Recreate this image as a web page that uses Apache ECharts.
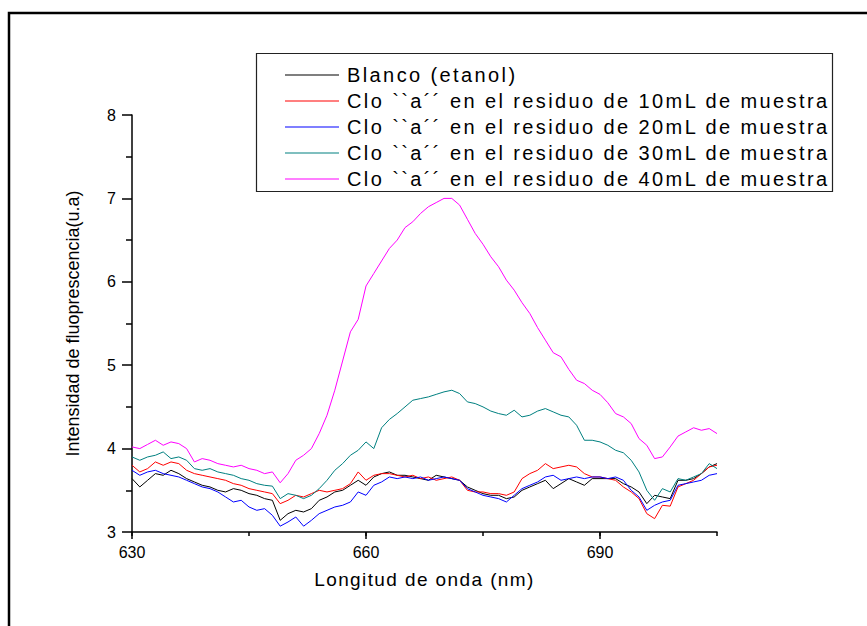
<!DOCTYPE html>
<html>
<head>
<meta charset="utf-8">
<script src="https://cdn.jsdelivr.net/npm/echarts/dist/echarts.min.js"></script>
<style>
  html, body { margin: 0; padding: 0; background: #fff; }
  #main { width: 867px; height: 626px; }
</style>
</head>
<body>
<div id="main"></div>
<script>
// longitud de onda (nm)
var wavelength = [630,631,632,633,634,635,636,637,638,639,640,641,642,643,644,645,646,647,648,649,
  650,651,652,653,654,655,656,657,658,659,660,661,662,663,664,665,666,667,668,669,
  670,671,672,673,674,675,676,677,678,679,680,681,682,683,684,685,686,687,688,689,
  690,691,692,693,694,695,696,697,698,699,700,701,702,703,704,705];

// Blanco (etanol)
var blanco = [3.64,3.54,3.62,3.70,3.68,3.74,3.70,3.64,3.60,3.56,3.54,3.50,3.48,3.52,3.50,3.46,3.44,3.40,3.38,3.14,
  3.22,3.26,3.24,3.28,3.38,3.42,3.48,3.50,3.56,3.62,3.56,3.66,3.70,3.72,3.68,3.68,3.66,3.64,3.62,3.68,
  3.66,3.64,3.62,3.54,3.50,3.46,3.44,3.44,3.40,3.42,3.50,3.54,3.58,3.62,3.52,3.58,3.64,3.60,3.56,3.64,
  3.64,3.64,3.64,3.58,3.54,3.48,3.34,3.44,3.42,3.40,3.62,3.62,3.64,3.70,3.78,3.82];
// 10mL
var m10 = [3.80,3.72,3.76,3.84,3.80,3.84,3.82,3.74,3.70,3.68,3.66,3.64,3.62,3.58,3.56,3.52,3.50,3.48,3.46,3.34,
  3.38,3.44,3.42,3.46,3.50,3.48,3.50,3.52,3.58,3.72,3.62,3.68,3.70,3.70,3.68,3.66,3.68,3.64,3.66,3.62,
  3.64,3.66,3.62,3.50,3.48,3.48,3.46,3.46,3.44,3.48,3.64,3.70,3.74,3.82,3.76,3.78,3.80,3.78,3.70,3.66,
  3.66,3.64,3.62,3.54,3.48,3.40,3.22,3.16,3.32,3.31,3.54,3.58,3.62,3.70,3.78,3.80];
// 20mL
var m20 = [3.74,3.68,3.72,3.74,3.70,3.68,3.66,3.62,3.58,3.54,3.52,3.48,3.42,3.36,3.38,3.30,3.26,3.28,3.20,3.07,
  3.12,3.18,3.07,3.14,3.22,3.26,3.30,3.32,3.36,3.48,3.44,3.56,3.60,3.66,3.64,3.66,3.64,3.66,3.62,3.64,
  3.66,3.64,3.62,3.52,3.48,3.44,3.42,3.40,3.36,3.44,3.52,3.56,3.60,3.66,3.68,3.62,3.64,3.66,3.64,3.66,
  3.66,3.64,3.66,3.62,3.50,3.42,3.26,3.32,3.36,3.38,3.56,3.58,3.60,3.62,3.68,3.70];
// 30mL
var m30 = [3.90,3.86,3.90,3.92,3.96,3.88,3.90,3.86,3.76,3.74,3.76,3.72,3.70,3.68,3.64,3.62,3.58,3.56,3.55,3.40,
  3.46,3.44,3.40,3.44,3.52,3.62,3.74,3.82,3.92,3.98,4.08,4.00,4.25,4.35,4.42,4.50,4.58,4.60,4.62,4.65,
  4.68,4.70,4.66,4.56,4.54,4.50,4.45,4.42,4.40,4.46,4.38,4.40,4.45,4.48,4.44,4.40,4.38,4.28,4.10,4.10,
  4.08,4.04,3.98,3.95,3.86,3.72,3.50,3.38,3.52,3.48,3.64,3.62,3.66,3.70,3.82,3.76];
// 40mL
var m40 = [4.02,4.00,4.05,4.10,4.04,4.08,4.06,4.00,3.84,3.88,3.86,3.82,3.80,3.78,3.80,3.76,3.74,3.70,3.72,3.59,
  3.70,3.86,3.92,4.00,4.18,4.40,4.70,5.05,5.40,5.55,5.95,6.10,6.25,6.40,6.50,6.65,6.72,6.82,6.90,6.95,
  7.00,7.00,6.92,6.75,6.58,6.45,6.30,6.18,6.02,5.90,5.75,5.62,5.45,5.30,5.15,5.10,4.95,4.82,4.78,4.70,
  4.65,4.55,4.42,4.38,4.30,4.12,4.04,3.88,3.90,4.02,4.15,4.20,4.25,4.22,4.24,4.18];

var seriesNames = ['Blanco (etanol)',
  'Clo ``a´´ en el residuo de 10mL de muestra',
  'Clo ``a´´ en el residuo de 20mL de muestra',
  'Clo ``a´´ en el residuo de 30mL de muestra',
  'Clo ``a´´ en el residuo de 40mL de muestra'];
var seriesColors = ['#000000', '#ff0000', '#0000ff', '#008080', '#ff00ff'];
var seriesValues = [blanco, m10, m20, m30, m40];

var xLabels = [630, 660, 690];
var xName = 'Longitud de onda (nm)';
var yName = 'Intensidad de fluoprescencia(u.a)';

var FONT = '"Liberation Sans", Arial, sans-serif';

function pairs(vals) {
  var out = [];
  for (var i = 0; i < wavelength.length; i++) {
    out.push([wavelength[i], vals[i]]);
  }
  return out;
}

var series = [];
for (var i = 0; i < seriesNames.length; i++) {
  series.push({
    name: seriesNames[i],
    type: 'line',
    xAxisIndex: 0,
    data: pairs(seriesValues[i]),
    symbol: 'none',
    color: seriesColors[i],
    lineStyle: { width: 1, color: seriesColors[i] }
  });
}

var chart = echarts.init(document.getElementById('main'), null, { renderer: 'svg' });

var option = {
  animation: false,
  backgroundColor: '#ffffff',
  grid: { left: 132, right: 150, top: 115, bottom: 94, containLabel: false },
  legend: {
    orient: 'vertical',
    left: 285,
    top: 62,
    padding: 0,
    itemGap: 0,
    icon: 'rect',
    itemWidth: 54,
    itemHeight: 1,
    data: seriesNames,
    textStyle: { fontFamily: FONT, fontSize: 20, color: '#000', lineHeight: 26, padding: [0, 0, 0, 3] }
  },
  xAxis: [
    {
      type: 'value',
      position: 'bottom',
      min: 630,
      max: 705,
      interval: 15,
      name: xName,
      nameLocation: 'middle',
      nameGap: 38,
      nameTextStyle: { fontFamily: FONT, fontSize: 19, color: '#000' },
      axisLine: { lineStyle: { color: '#000', width: 1.5 } },
      axisTick: { length: 4, lineStyle: { color: '#000', width: 1.5 } },
      axisLabel: {
        margin: 12,
        fontFamily: FONT, fontSize: 16, color: '#000',
        formatter: function (v) { return xLabels.indexOf(v) >= 0 ? String(v) : ''; }
      },
      splitLine: { show: false }
    },
    {
      // ticks largos en 630, 660, 690
      type: 'value',
      position: 'bottom',
      min: 630,
      max: 705,
      interval: 30,
      axisLine: { show: false },
      axisTick: { length: 7, customValues: xLabels, lineStyle: { color: '#000', width: 1.5 } },
      axisLabel: { show: false },
      splitLine: { show: false }
    }
  ],
  yAxis: {
    type: 'value',
    min: 3,
    max: 8,
    interval: 1,
    name: yName,
    nameLocation: 'middle',
    nameRotate: 90,
    nameGap: 50,
    nameTextStyle: { fontFamily: FONT, fontSize: 18, color: '#000' },
    axisLine: { show: true, lineStyle: { color: '#000', width: 1.5 } },
    axisTick: { show: true, length: 10, lineStyle: { color: '#000', width: 1.5 } },
    minorTick: { show: true, splitNumber: 2, length: 6, lineStyle: { color: '#000', width: 1.5 } },
    axisLabel: { margin: 16, fontFamily: FONT, fontSize: 16, color: '#000' },
    splitLine: { show: false }
  },
  graphic: [
    // marco exterior (solo se ven arriba e izquierda)
    {
      type: 'rect',
      shape: { x: 9, y: 13, width: 1000, height: 800 },
      style: { fill: 'none', stroke: '#000', lineWidth: 2.5 },
      silent: true
    },
    // caja de la leyenda
    {
      type: 'rect',
      shape: { x: 256.5, y: 53.5, width: 576, height: 138 },
      style: { fill: 'none', stroke: '#222', lineWidth: 1.2 },
      silent: true
    }
  ],
  series: series
};

chart.setOption(option);

// el original tiene el texto de la leyenda y del eje x algo espaciado
function spaceText() {
  var texts = document.querySelectorAll('#main svg text');
  for (var k = 0; k < texts.length; k++) {
    var s = texts[k].textContent;
    if (seriesNames.indexOf(s) >= 0) {
      texts[k].setAttribute('letter-spacing', '2.4');
    } else if (s === xName) {
      texts[k].setAttribute('letter-spacing', '1.4');
    }
  }
}
spaceText();
chart.on('finished', spaceText);
</script>
</body>
</html>
